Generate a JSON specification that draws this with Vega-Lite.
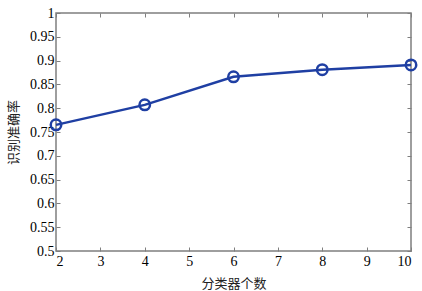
{
  "$schema": "https://vega.github.io/schema/vega-lite/v6.json",
  "width": 355,
  "height": 238,
  "autosize": "none",
  "padding": {"left": 56, "top": 13, "right": 11, "bottom": 40},
  "background": "white",
  "config": {
    "view": {"stroke": "#7f7f7f", "strokeWidth": 1.5},
    "axis": {
      "grid": false,
      "domain": false,
      "tickColor": "#7f7f7f",
      "tickSize": -4,
      "labelFont": "Times New Roman, Liberation Serif, serif",
      "labelFontSize": 14,
      "labelColor": "#000000",
      "titleFont": "Noto Sans CJK SC",
      "titleFontSize": 13,
      "titleFontWeight": "normal",
      "titleColor": "#222222"
    }
  },
  "data": {
    "values": [
      {"n": 2, "acc": 0.765},
      {"n": 4, "acc": 0.807},
      {"n": 6, "acc": 0.866},
      {"n": 8, "acc": 0.881},
      {"n": 10, "acc": 0.891}
    ]
  },
  "layer": [
    {
      "mark": {"type": "line", "color": "#1f3fa3", "strokeWidth": 2.5},
      "encoding": {
        "x": {"field": "n", "type": "quantitative", "scale": {"domain": [2, 10], "nice": false},
              "axis": {"orient": "bottom", "values": [2,3,4,5,6,7,8,9,10], "format": "d", "labelPadding": 7, "title": "分类器个数", "titlePadding": 9}},
        "y": {"field": "acc", "type": "quantitative", "scale": {"domain": [0.5, 1], "nice": false, "zero": false},
              "axis": {"orient": "left", "values": [0.5,0.55,0.6,0.65,0.7,0.75,0.8,0.85,0.9,0.95,1], "format": "~g", "labelPadding": 6, "title": "识别准确率", "titlePadding": 9}}
      }
    },
    {
      "mark": {"type": "point", "shape": "circle", "filled": false, "color": "#1f3fa3", "strokeWidth": 2.5, "size": 110, "opacity": 1},
      "encoding": {
        "x": {"field": "n", "type": "quantitative", "axis": {"orient": "top", "values": [2,3,4,5,6,7,8,9,10], "labels": false, "title": null}},
        "y": {"field": "acc", "type": "quantitative", "axis": {"orient": "right", "values": [0.5,0.55,0.6,0.65,0.7,0.75,0.8,0.85,0.9,0.95,1], "labels": false, "title": null}}
      }
    }
  ],
  "resolve": {"axis": {"x": "independent", "y": "independent"}}
}
